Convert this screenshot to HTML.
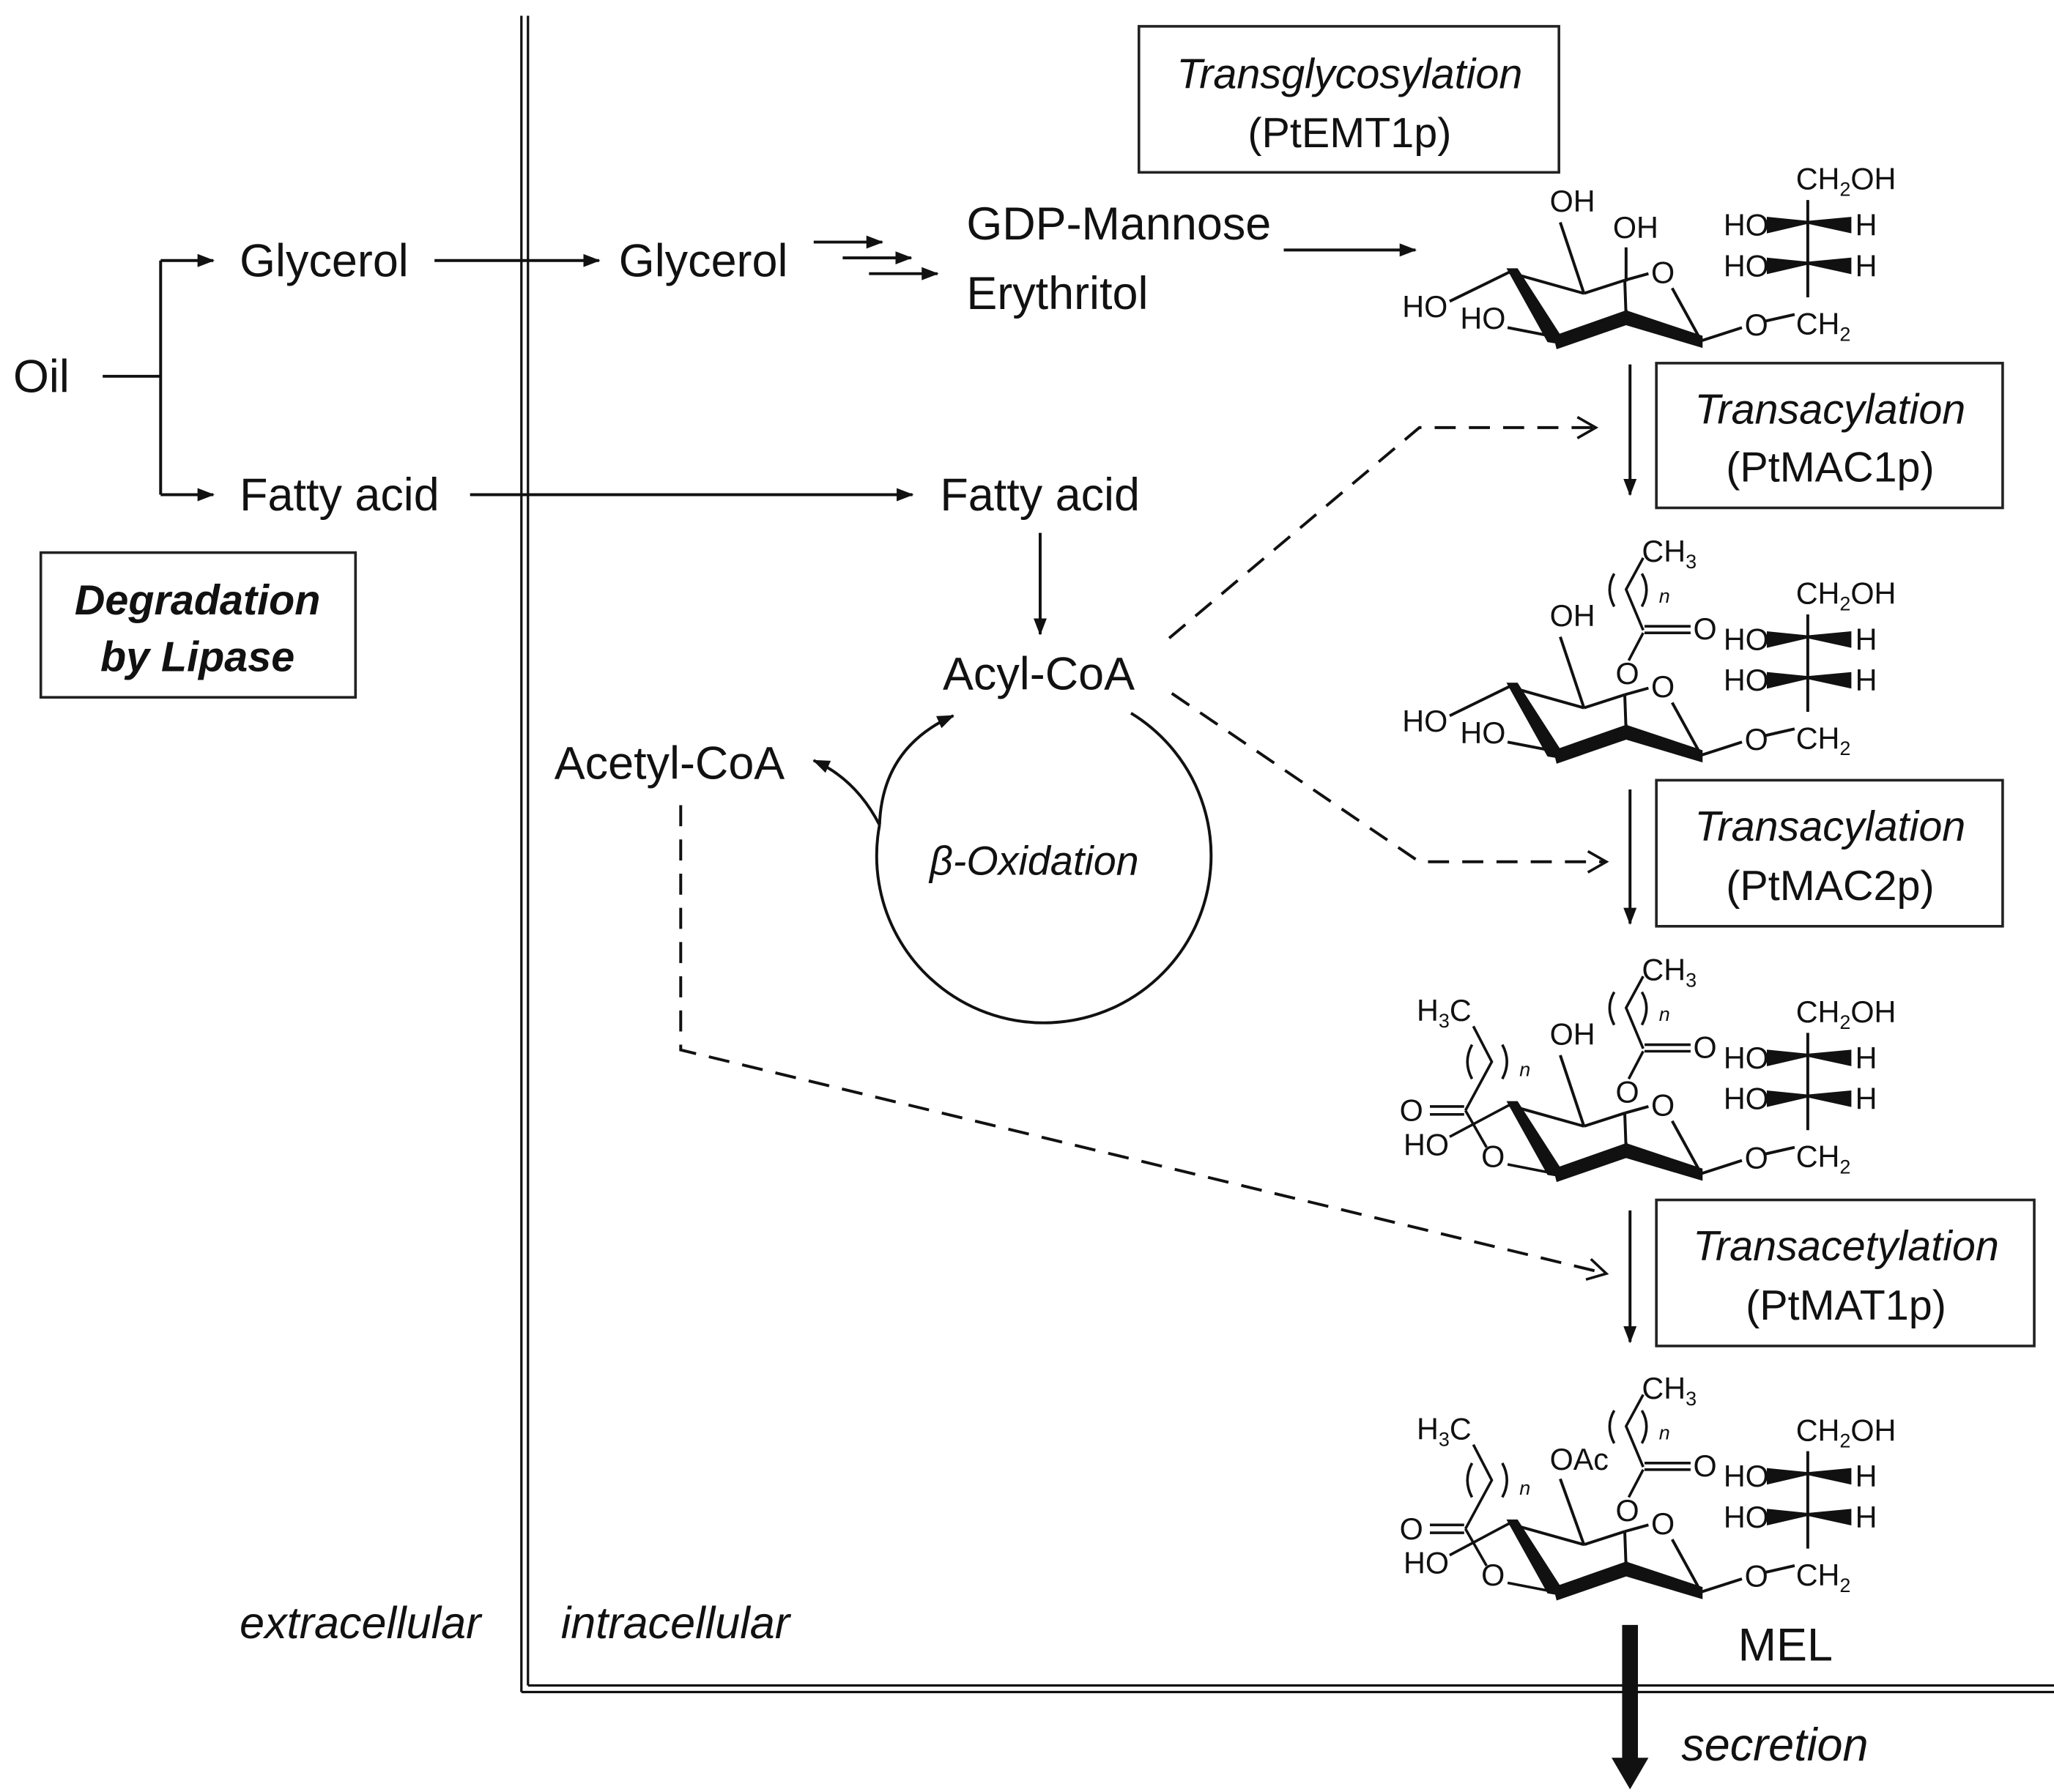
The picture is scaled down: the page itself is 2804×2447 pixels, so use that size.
<!DOCTYPE html>
<html><head><meta charset="utf-8"><style>
html,body{margin:0;padding:0;background:#fff;}
svg{display:block;}
text{font-family:"Liberation Sans",sans-serif;fill:#111;}
.m{font-size:35px;}
.b{font-size:32px;}
.c{font-size:23px;}
.s{font-size:15px;}
.i{font-style:italic;}
</style></head><body>
<svg width="2804" height="2447" viewBox="0 0 1560 1362" preserveAspectRatio="none" xmlns="http://www.w3.org/2000/svg">
<defs>
<marker id="ah" markerWidth="14" markerHeight="12" refX="12" refY="6" orient="auto" markerUnits="userSpaceOnUse"><path d="M0,1 L13,6 L0,11 z" fill="#111"/></marker>
<marker id="oa" markerWidth="20" markerHeight="20" refX="16" refY="10" orient="auto" markerUnits="userSpaceOnUse"><path d="M2,2 L16,10 L2,18" fill="none" stroke="#111" stroke-width="2"/></marker>
<g id="sugar" stroke="#111" stroke-width="2.2" fill="none">
<line x1="1146" y1="1158" x2="1203" y2="1174"/>
<line x1="1203" y1="1174" x2="1234" y2="1164"/>
<line x1="1234" y1="1164" x2="1252" y2="1159"/>
<line x1="1270" y1="1170" x2="1292" y2="1210"/>
<line x1="1234" y1="1164" x2="1235" y2="1192"/>
<polygon points="1146,1156 1176,1210 1188,1212 1152,1156" fill="#111"/>
<polygon points="1181,1207 1235,1188 1235,1197 1183,1215" fill="#111"/>
<polygon points="1235,1188 1292,1207 1292,1214 1235,1197" fill="#111"/>
<line x1="1292" y1="1210" x2="1323" y2="1200"/>
<line x1="1341" y1="1195" x2="1363" y2="1190"/>
<line x1="1373" y1="1103" x2="1373" y2="1177"/>
<polygon points="1343,1117 1373,1120 1343,1127" fill="#111"/>
<polygon points="1373,1120 1405,1117 1405,1127" fill="#111"/>
<polygon points="1343,1148 1373,1151 1343,1158" fill="#111"/>
<polygon points="1373,1151 1405,1148 1405,1158" fill="#111"/>
</g>
<g id="sugartxt">
<text class="c" x="1254" y="1166">O</text>
<text class="c" x="1325" y="1206">O</text>
<text class="c" x="1364" y="1205">CH<tspan class="s" dy="5">2</tspan></text>
<text class="c" x="1364" y="1095">CH<tspan class="s" dy="5">2</tspan><tspan dy="-5">OH</tspan></text>
<text class="c" x="1309" y="1130">HO</text>
<text class="c" x="1409" y="1130">H</text>
<text class="c" x="1309" y="1161">HO</text>
<text class="c" x="1409" y="1161">H</text>
</g>
<g id="acyl2" stroke="#111" stroke-width="2" fill="none">
<line x1="1237" y1="1138" x2="1248" y2="1117"/>
<line x1="1249" y1="1112" x2="1284" y2="1112"/>
<line x1="1249" y1="1117" x2="1284" y2="1117"/>
<polyline points="1248,1115 1235,1084 1248,1060"/>
<path d="M1226,1072 Q1219,1084 1226,1097"/>
<path d="M1247,1072 Q1254,1084 1247,1097"/>
</g>
<g id="acyl2t">
<text class="c" x="1227" y="1156">O</text>
<text class="c" x="1286" y="1122">O</text>
<text class="s i" x="1260" y="1094">n</text>
<text class="c" x="1247" y="1063">CH<tspan class="s" dy="5">3</tspan></text>
</g>
<g id="acyl3" stroke="#111" stroke-width="2" fill="none">
<line x1="1146" y1="1158" x2="1101" y2="1182"/>
<line x1="1113" y1="1162" x2="1129" y2="1190"/>
<line x1="1145" y1="1203" x2="1181" y2="1210"/>
<line x1="1112" y1="1159" x2="1086" y2="1159"/>
<line x1="1112" y1="1165" x2="1086" y2="1165"/>
<polyline points="1113,1162 1133,1125 1119,1098"/>
<path d="M1118,1112 Q1111,1125 1118,1138"/>
<path d="M1141,1112 Q1148,1125 1141,1138"/>
</g>
<g id="acyl3t">
<text class="c" x="1063" y="1170">O</text>
<text class="c" x="1066" y="1196">HO</text>
<text class="c" x="1125" y="1205">O</text>
<text class="s i" x="1154" y="1136">n</text>
<text class="c" x="1076" y="1094">H<tspan class="s" dy="5">3</tspan><tspan dy="-5">C</tspan></text>
</g>
</defs>

<!-- membranes -->
<g stroke="#111" stroke-width="1.8">
<line x1="396" y1="12" x2="396" y2="1286"/>
<line x1="401" y1="12" x2="401" y2="1281"/>
<line x1="396" y1="1286" x2="1560" y2="1286"/>
<line x1="401" y1="1281" x2="1560" y2="1281"/>
</g>

<!-- main labels -->
<text class="m" x="10" y="298">Oil</text>
<text class="m" x="182" y="210">Glycerol</text>
<text class="m" x="182" y="388">Fatty acid</text>
<text class="m" x="470" y="210">Glycerol</text>
<text class="m" x="734" y="182">GDP-Mannose</text>
<text class="m" x="734" y="235">Erythritol</text>
<text class="m" x="714" y="388">Fatty acid</text>
<text class="m" x="716" y="524">Acyl-CoA</text>
<text class="m" x="421" y="592">Acetyl-CoA</text>
<text class="i" x="706" y="665" style="font-size:31px">β-Oxidation</text>
<text class="i" x="182" y="1245" style="font-size:34px">extracellular</text>
<text class="i" x="426" y="1245" style="font-size:34px">intracellular</text>
<text class="i" x="1277" y="1338" style="font-size:35px">secretion</text>
<text class="m" x="1320" y="1262">MEL</text>

<!-- boxes -->
<g fill="none" stroke="#222" stroke-width="2">
<rect x="31" y="420" width="239" height="110"/>
<rect x="865" y="20" width="319" height="111"/>
<rect x="1258" y="276" width="263" height="110"/>
<rect x="1258" y="593" width="263" height="111"/>
<rect x="1258" y="912" width="287" height="111"/>
</g>
<text class="b i" x="150" y="467" text-anchor="middle" style="font-weight:bold">Degradation</text>
<text class="b i" x="150" y="510" text-anchor="middle" style="font-weight:bold">by Lipase</text>
<text class="b i" x="1025" y="67" text-anchor="middle">Transglycosylation</text>
<text class="b" x="1025" y="112" text-anchor="middle">(PtEMT1p)</text>
<text class="b i" x="1390" y="322" text-anchor="middle">Transacylation</text>
<text class="b" x="1390" y="366" text-anchor="middle">(PtMAC1p)</text>
<text class="b i" x="1390" y="639" text-anchor="middle">Transacylation</text>
<text class="b" x="1390" y="684" text-anchor="middle">(PtMAC2p)</text>
<text class="b i" x="1402" y="958" text-anchor="middle">Transacetylation</text>
<text class="b" x="1402" y="1003" text-anchor="middle">(PtMAT1p)</text>

<!-- solid arrows -->
<g stroke="#111" stroke-width="2.2" fill="none">
<line x1="78" y1="286" x2="122" y2="286"/>
<line x1="122" y1="198" x2="122" y2="376"/>
<line x1="122" y1="198" x2="162" y2="198" marker-end="url(#ah)"/>
<line x1="122" y1="376" x2="162" y2="376" marker-end="url(#ah)"/>
<line x1="330" y1="198" x2="455" y2="198" marker-end="url(#ah)"/>
<line x1="357" y1="376" x2="693" y2="376" marker-end="url(#ah)"/>
<line x1="618" y1="184" x2="670" y2="184" marker-end="url(#ah)"/>
<line x1="640" y1="196" x2="692" y2="196" marker-end="url(#ah)"/>
<line x1="660" y1="208" x2="712" y2="208" marker-end="url(#ah)"/>
<line x1="975" y1="190" x2="1075" y2="190" marker-end="url(#ah)"/>
<line x1="790" y1="405" x2="790" y2="482" marker-end="url(#ah)"/>
<line x1="1238" y1="277" x2="1238" y2="376" marker-end="url(#ah)"/>
<line x1="1238" y1="600" x2="1238" y2="702" marker-end="url(#ah)"/>
<line x1="1238" y1="920" x2="1238" y2="1020" marker-end="url(#ah)"/>
<path d="M859,542 A127,127 0 1 1 668,627"/>
<path d="M668,627 Q670,568 724,544" marker-end="url(#ah)"/>
<path d="M668,627 Q650,592 618,578" marker-end="url(#ah)"/>
</g>
<polygon points="1232,1235 1244,1235 1244,1336 1252,1336 1238,1360 1224,1336 1232,1336" fill="#111"/>

<!-- dashed -->
<g stroke="#111" stroke-width="2.2" fill="none" stroke-dasharray="16,10">
<polyline points="888,485 1078,325 1212,325" marker-end="url(#oa)"/>
<polyline points="890,527 1078,655 1220,655" marker-end="url(#oa)"/>
<polyline points="517,612 517,798 1220,968" marker-end="url(#oa)"/>
</g>

<!-- sugar 1 -->
<g transform="translate(0,-951)">
<use href="#sugar"/><use href="#sugartxt"/>
<g stroke="#111" stroke-width="2.2"><line x1="1185" y1="1120" x2="1203" y2="1174"/><line x1="1235" y1="1139" x2="1235" y2="1165"/><line x1="1101" y1="1180" x2="1146" y2="1158"/><line x1="1145" y1="1200" x2="1181" y2="1207"/></g>
<text class="c" x="1177" y="1112">OH</text>
<text class="c" x="1225" y="1132">OH</text>
<text class="c" x="1065" y="1192">HO</text>
<text class="c" x="1109" y="1201">HO</text>
</g>
<!-- sugar 2 -->
<g transform="translate(0,-636)">
<use href="#sugar"/><use href="#sugartxt"/><use href="#acyl2"/><use href="#acyl2t"/>
<g stroke="#111" stroke-width="2.2"><line x1="1185" y1="1120" x2="1203" y2="1174"/><line x1="1101" y1="1180" x2="1146" y2="1158"/><line x1="1145" y1="1200" x2="1181" y2="1207"/></g>
<text class="c" x="1177" y="1112">OH</text>
<text class="c" x="1065" y="1192">HO</text>
<text class="c" x="1109" y="1201">HO</text>
</g>
<!-- sugar 3 -->
<g transform="translate(0,-318)">
<use href="#sugar"/><use href="#sugartxt"/><use href="#acyl2"/><use href="#acyl2t"/><use href="#acyl3"/><use href="#acyl3t"/>
<g stroke="#111" stroke-width="2.2"><line x1="1185" y1="1120" x2="1203" y2="1174"/></g>
<text class="c" x="1177" y="1112">OH</text>
</g>
<!-- MEL -->
<g>
<use href="#sugar"/><use href="#sugartxt"/><use href="#acyl2"/><use href="#acyl2t"/><use href="#acyl3"/><use href="#acyl3t"/>
<g stroke="#111" stroke-width="2.2"><line x1="1185" y1="1124" x2="1203" y2="1174"/></g>
<text class="c" x="1177" y="1117">OAc</text>
</g>
</svg>
</body></html>
